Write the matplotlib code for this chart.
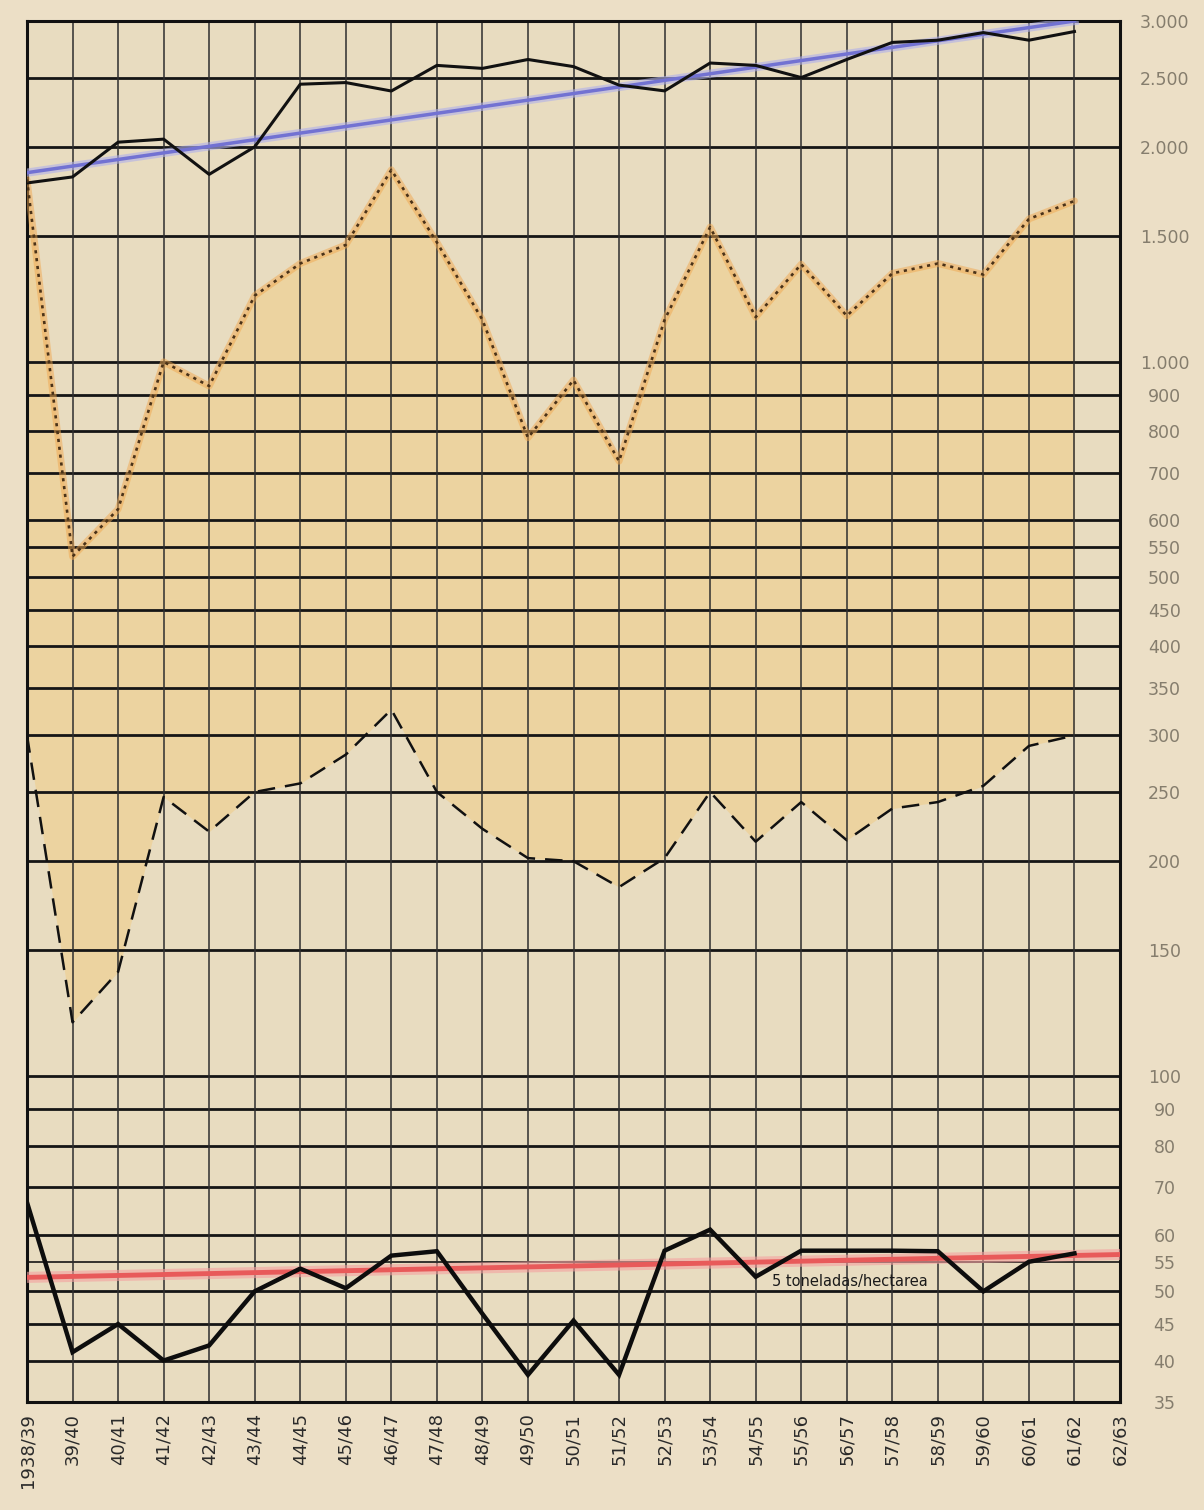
import matplotlib
matplotlib.use("Agg")
import matplotlib.pyplot as plt
from matplotlib.ticker import FixedLocator, NullLocator

# ---------------- data ----------------
temporadas = ["1938/39", "39/40", "40/41", "41/42", "42/43", "43/44", "44/45",
              "45/46", "46/47", "47/48", "48/49", "49/50", "50/51", "51/52",
              "52/53", "53/54", "54/55", "55/56", "56/57", "57/58", "58/59",
              "59/60", "60/61", "61/62", "62/63"]

# upper solid black series
serie_superior = [1780, 1815, 2030, 2050, 1830, 2000, 2447, 2460, 2394, 2600,
                  2575, 2650, 2590, 2440, 2395, 2620, 2600, 2500, 2650, 2800,
                  2820, 2890, 2820, 2900]
# blue trend of the upper series (start / end)
tendencia_sup_x = [0, 23]
tendencia_sup = [1840, 3000]

# orange dotted series
serie_punteada = [1800, 534, 622, 1000, 925, 1238, 1373, 1458, 1857, 1470,
                  1145, 783, 943, 726, 1145, 1544, 1155, 1370, 1160, 1330,
                  1373, 1325, 1585, 1680]

# black dashed series
serie_discontinua = [300, 119, 140, 246, 220, 250, 257, 282, 326, 250,
                     222, 202, 200, 184, 202, 250, 213, 242, 214, 237,
                     242, 255, 290, 300]

# thick bottom series (yield)
rendimiento = [66.6, 41.1, 45.0, 40.0, 42.0, 50.0, 53.8, 50.5, 56.1, 56.9,
               46.5, 38.2, 45.5, 38.2, 57.0, 61.0, 52.4, 57.0, 57.0, 57.0,
               56.9, 50.0, 55.0, 56.5]
# red trend line (start / end)
tendencia_inf_x = [0, 24]
tendencia_inf = [52.3, 56.3]

valores_y = [35, 40, 45, 50, 55, 60, 70, 80, 90, 100, 150, 200, 250, 300, 350,
             400, 450, 500, 550, 600, 700, 800, 900, 1000, 1500, 2000, 2500, 3000]
etiquetas_y = ["35", "40", "45", "50", "55", "60", "70", "80", "90", "100",
               "150", "200", "250", "300", "350", "400", "450", "500", "550",
               "600", "700", "800", "900", "1.000", "1.500", "2.000", "2.500",
               "3.000"]

etiqueta_rend = "5 toneladas/hectarea"

# ---------------- figure ----------------
papel = "#e8dcc0"
fig = plt.figure(figsize=(12.04, 15.10), dpi=100, facecolor="#ecdfc6")
ax = fig.add_axes([27 / 1204, 1 - 1402 / 1510, (1120 - 27) / 1204, (1402 - 21) / 1510])
ax.set_facecolor(papel)

ax.set_yscale("log")
ax.set_ylim(35, 3000)
ax.set_xlim(0, len(temporadas) - 1)

xs = list(range(len(serie_superior)))

# grid
for v in valores_y[1:-1]:
    ax.axhline(v, color="#151515", lw=2.0 if v != 55 else 1.2, zorder=1)
for i in range(1, len(temporadas) - 1):
    ax.axvline(i, color="#2e2e2e", lw=1.1, zorder=1)

# shaded band between dashed and dotted series
ax.fill_between(xs, serie_discontinua, serie_punteada, color="#f0cc86",
                alpha=0.55, lw=0, zorder=0.5)

# upper series + blue trend
ax.plot(tendencia_sup_x, tendencia_sup, color="#b0b0ea", lw=6, alpha=0.6, zorder=3)
ax.plot(tendencia_sup_x, tendencia_sup, color="#7272d2", lw=2.5, zorder=3)
ax.plot(xs, serie_superior, color="#111111", lw=2.2, zorder=4)

# orange dotted series
ax.plot(xs, serie_punteada, color="#f0a850", lw=5, alpha=0.5, zorder=3,
        solid_capstyle="round")
ax.plot(xs, serie_punteada, color="#4a3218", lw=1.9, ls=(0, (1.2, 1.8)), zorder=4)

# dashed series
ax.plot(xs, serie_discontinua, color="#111111", lw=1.8, ls=(0, (7, 4)), zorder=4)

# bottom series + red trend
ax.plot(tendencia_inf_x, tendencia_inf, color="#f4a0a0", lw=8, alpha=0.6, zorder=3)
ax.plot(tendencia_inf_x, tendencia_inf, color="#e85a5a", lw=3.5, zorder=3)
ax.plot(xs, rendimiento, color="#0d0d0d", lw=3.2, zorder=4, solid_joinstyle="miter")

ax.text(16.35, 51.6, etiqueta_rend, fontsize=10.5, color="#1a1a1a",
        ha="left", va="center", zorder=5)

# axes / ticks
for s in ax.spines.values():
    s.set_color("#111111")
    s.set_linewidth(2.2)

ax.yaxis.set_major_locator(FixedLocator(valores_y))
ax.yaxis.set_minor_locator(NullLocator())
ax.set_yticklabels(etiquetas_y)
ax.yaxis.tick_right()
ax.tick_params(axis="y", length=0, pad=32, labelsize=12.5, labelcolor="#857d6d")
for lab in ax.get_yticklabels():
    lab.set_horizontalalignment("center")

ax.set_xticks(range(len(temporadas)))
ax.set_xticklabels(temporadas, rotation=90)
ax.tick_params(axis="x", length=0, pad=8, labelsize=13, labelcolor="#2a2a2a")

fig.savefig("out.png", dpi=100, facecolor=fig.get_facecolor())
